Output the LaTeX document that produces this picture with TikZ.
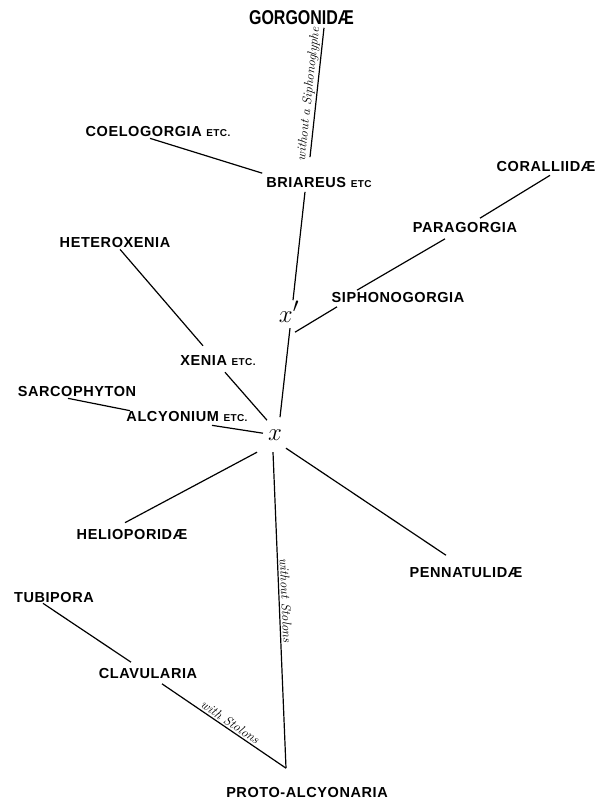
\documentclass[tikz,border=0pt]{standalone}
\usepackage{fontspec}
\usepackage{tikz}
\newfontfamily\lblfont[LetterSpace=4]{Liberation Sans}
\newfontfamily\gorgfont[FakeStretch=0.8]{Liberation Sans}
\tikzstyle{taxon} = [inner sep=1pt, font=\lblfont\bfseries\fontsize{14.5}{16}\selectfont]
\tikzstyle{node x} = [inner sep=0pt, anchor=base, font=\Huge]
\tikzstyle{branch} = [line width=1.2pt]
\tikzstyle{remark} = [midway, sloped, above, inner sep=1.5pt, font=\itshape\fontsize{13}{15}\selectfont]
\newcommand{\etc}[1]{{\fontsize{10}{12}\selectfont #1}}

\begin{document}
\begin{tikzpicture}[
            x=1pt, y=-1pt
        ]
            \useasboundingbox (0,0) rectangle (606,801);

            % groups
            \node[taxon, font=\gorgfont\bfseries\fontsize{20}{22}\selectfont] (gorg) at (301.5,17.5) {GORGONIDÆ};
            \node[taxon] (coel) at (158,132) {COELOGORGIA \etc{ETC.}};
            \node[taxon] (bri) at (319,182.5) {BRIAREUS \etc{ETC}};
            \node[taxon] (cor) at (546,167) {CORALLIIDÆ};
            \node[taxon] (par) at (465,227.5) {PARAGORGIA};
            \node[taxon] (sip) at (398,297.5) {SIPHONOGORGIA};
            \node[taxon] (het) at (115,243) {HETEROXENIA};
            \node[taxon] (xen) at (218,361) {XENIA \etc{ETC.}};
            \node[taxon] (sar) at (77,392) {SARCOPHYTON};
            \node[taxon] (alc) at (187,417) {ALCYONIUM \etc{ETC.}};
            \node[taxon] (hel) at (132,535) {HELIOPORIDÆ};
            \node[taxon] (pen) at (466,572.5) {PENNATULIDÆ};
            \node[taxon] (tub) at (54,597) {TUBIPORA};
            \node[taxon] (cla) at (148,673.5) {CLAVULARIA};
            \node[taxon] (pro) at (307,792.5) {PROTO-ALCYONARIA};

            % branching points
            \node[node x] (xp) at (289,322) {$x'$};
            \node[node x] (x) at (275,440) {$x$};

            % upper stem
            \draw[branch] ([xshift=22.5pt,yshift=-2pt]gorg.south) -- ([xshift=-9pt,yshift=19pt]bri.north)
                node[remark, pos=0.52] {without a Siphonoglyphe};
            \draw[branch] ([xshift=-8pt]coel.south) -- ([xshift=-3pt,yshift=3pt]bri.north west);
            \draw[branch] ([xshift=-14pt,yshift=-3pt]bri.south) -- ([xshift=4pt,yshift=22pt]xp.south);
            \draw[branch] ([xshift=4pt,yshift=-2pt]cor.south) -- ([xshift=15pt,yshift=3pt]par.north);
            \draw[branch] ([xshift=-20pt,yshift=-5pt]par.south) -- ([xshift=-41pt,yshift=1pt]sip.north);
            \draw[branch] ([xshift=-61pt,yshift=-3pt]sip.south) -- ([xshift=6pt,yshift=-10pt]xp.south);
            \draw[branch] ([xshift=1pt,yshift=-6pt]xp.south) -- ([xshift=5pt,yshift=23pt]x.south);

            % left side
            \draw[branch] ([xshift=5pt]het.south) -- ([xshift=-15pt,yshift=9pt]xen.north);
            \draw[branch] ([xshift=7pt,yshift=-5pt]xen.south) -- ([xshift=-8pt,yshift=20pt]x.south);
            \draw[branch] ([xshift=-9pt]sar.south) -- ([xshift=-57pt]alc.north);
            \draw[branch] ([xshift=25pt,yshift=-2pt]alc.south) -- ([xshift=-12pt,yshift=7pt]x.south);

            % lower part
            \draw[branch] ([xshift=-18pt,yshift=-12pt]x.south) -- ([xshift=-7pt,yshift=6pt]hel.north);
            \draw[branch] ([xshift=11pt,yshift=-8pt]x.south) -- ([xshift=-20pt,yshift=11pt]pen.north);
            \draw[branch] ([xshift=-2pt,yshift=-12pt]x.south) -- ([xshift=-21pt,yshift=18pt]pro.north)
                node[remark, pos=0.47] {without Stolons};
            \draw[branch] ([xshift=-11pt]tub.south) -- ([xshift=-17pt,yshift=5pt]cla.north);
            \draw[branch] ([xshift=14pt,yshift=-4pt]cla.south) -- ([xshift=-21pt,yshift=18pt]pro.north)
                node[remark, pos=0.52] {with Stolons};

        \end{tikzpicture}
\end{document}
